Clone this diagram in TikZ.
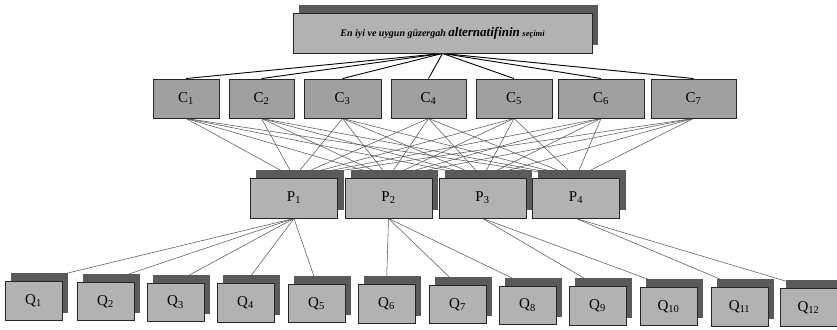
\documentclass[tikz,border=0pt]{standalone}
\usepackage{fontspec}
\setmainfont{Liberation Serif}
\usetikzlibrary{backgrounds,calc}
\definecolor{boxfill}{HTML}{B2B2B2}
\definecolor{cfill}{HTML}{A0A0A0}
\definecolor{shadowgray}{HTML}{5A5A5A}
\newcommand\dropshade[1]{\fill[fill=shadowgray] ($(#1.south west)+(6,-8)$) rectangle ($(#1.north east)+(6,-8)$);}
\begin{document}
\begin{tikzpicture}[x=1pt,y=-1pt,
  box/.style={draw=black!85, line width=0.9pt, fill=boxfill, inner sep=0pt, font=\fontsize{15}{15}\selectfont},
  cbox/.style={box, fill=cfill, minimum height=39pt},
  pbox/.style={box, minimum width=87pt, minimum height=40pt},
  qbox/.style={box, minimum width=57pt, minimum height=38.5pt},
  upper/.style={black, line width=0.9pt},
  lower/.style={black!65, line width=0.55pt}]
\useasboundingbox (0,0) rectangle (837,329);
% top
\node[box, minimum width=299pt, minimum height=40pt] (T) at (442.5,33)
  {\bfseries\itshape\fontsize{10}{10}\selectfont En iyi ve uygun güzergah {\fontsize{13}{13}\selectfont alternatifinin} {\fontsize{8.5}{8.5}\selectfont seçimi}};
% criteria
\node[cbox, minimum width=66pt] (C1) at (186,98.5) {C\textsubscript{1}};
\node[cbox, minimum width=65pt] (C2) at (261.5,98.5) {C\textsubscript{2}};
\node[cbox, minimum width=77pt] (C3) at (342.5,98.5) {C\textsubscript{3}};
\node[cbox, minimum width=75pt] (C4) at (428.5,98.5) {C\textsubscript{4}};
\node[cbox, minimum width=76pt] (C5) at (514,98.5) {C\textsubscript{5}};
\node[cbox, minimum width=86pt] (C6) at (601,98.5) {C\textsubscript{6}};
\node[cbox, minimum width=85pt] (C7) at (693.5,98.5) {C\textsubscript{7}};
% P
\node[pbox] (P1) at (294,198) {P\textsubscript{1}};
\node[pbox] (P2) at (388.5,198) {P\textsubscript{2}};
\node[pbox] (P3) at (482.5,198) {P\textsubscript{3}};
\node[pbox] (P4) at (576,198) {P\textsubscript{4}};
% Q
\foreach \i/\l in {1/5,2/77,3/147,4/217,5/288,6/358,7/429,8/499,9/569,10/640,11/711,12/780}{
  \node[qbox] (Q\i) at ({\l+28.5},{301+(\i-1)*0.6}) {Q\textsubscript{\i}};
}
\begin{scope}[on background layer]
  \dropshade{T}
  \foreach \n in {P1,P2,P3,P4,Q1,Q2,Q3,Q4,Q5,Q6,Q7,Q8,Q9,Q10,Q11,Q12}{\dropshade{\n}}
  \foreach \i in {1,...,7}{\draw[upper] (T.south) -- (C\i.north);}
  \foreach \i in {1,...,7}{\foreach \j in {1,...,4}{\draw[lower] (C\i.south) -- (P\j.north);}}
  \foreach \p/\q in {1/1,1/2,1/3,1/4,1/5,2/6,2/7,2/8,3/9,3/10,4/11,4/12}{\draw[lower] (P\p.south) -- (Q\q.north);}
\end{scope}
\end{tikzpicture}
\end{document}
